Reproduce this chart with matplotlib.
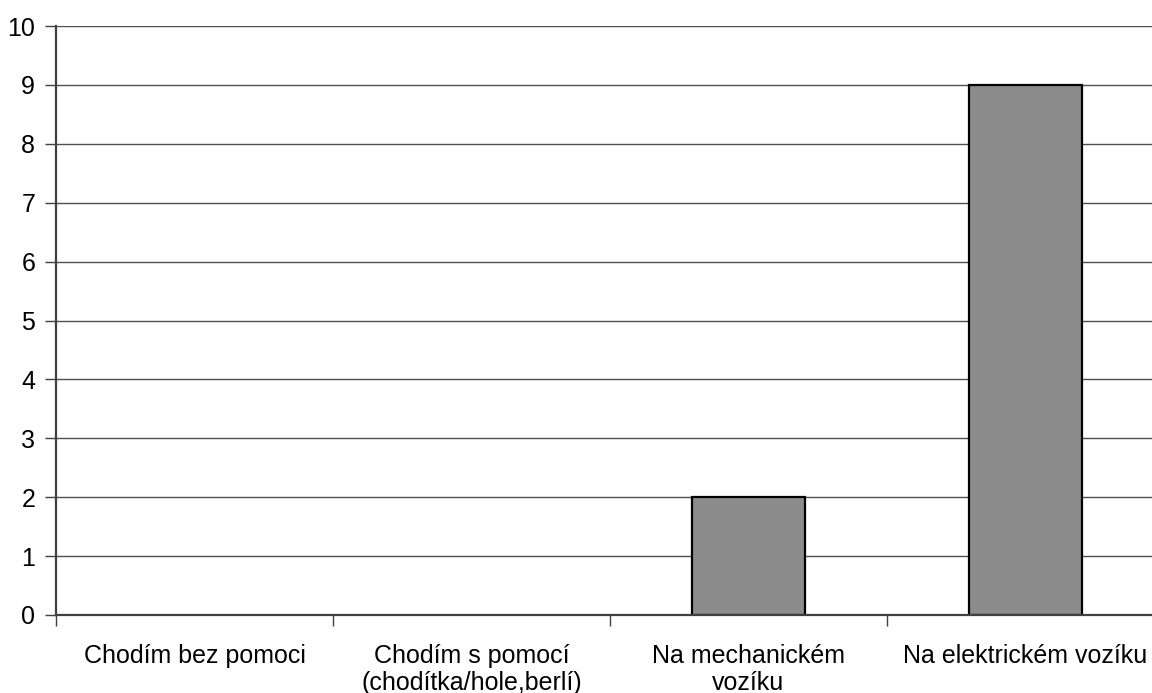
import matplotlib
matplotlib.use("Agg")
import matplotlib.pyplot as plt

plt.rcParams['font.family'] = ['Liberation Sans', 'DejaVu Sans']

categories = ["Chodím bez pomoci", "Chodím s pomocí\n(chodítka/hole,berlí)",
              "Na mechanickém\nvozíku", "Na elektrickém vozíku"]
counts = [0, 0, 2, 9]
y_ticks = list(range(0, 11))

fig = plt.figure(figsize=(11.52, 6.93), dpi=100)
ax = fig.add_axes([56 / 1152, 78 / 693, 1108 / 1152, 589 / 693])

x = list(range(len(categories)))
ax.bar(x, counts, width=0.405, color='#8c8c8c', edgecolor='black',
       linewidth=[1.6 if c else 0 for c in counts], zorder=2)

ax.set_xlim(-0.5, len(categories) - 0.5)
ax.set_ylim(0, 10)
ax.set_yticks(y_ticks)
ax.set_yticklabels([str(v) for v in y_ticks], fontsize=18)
ax.yaxis.grid(True, color='#505050', linewidth=1.0, zorder=0)
ax.set_axisbelow(True)

# category labels sit between the boundary ticks
ax.set_xticks([i - 0.5 for i in range(len(categories) + 1)])
ax.set_xticklabels([])
ax.set_xticks(x, minor=True)
ax.set_xticklabels(categories, minor=True, fontsize=18, linespacing=1.13)
ax.tick_params(axis='x', which='minor', length=0, pad=21)
ax.tick_params(axis='x', which='major', length=8, width=1.0, color='#404040', direction='out')
ax.tick_params(axis='y', length=8, width=1.0, color='#404040', pad=7)

for side in ('top', 'right'):
    ax.spines[side].set_visible(False)
for side in ('left', 'bottom'):
    ax.spines[side].set_color('#404040')
    ax.spines[side].set_linewidth(1.6)
    ax.spines[side].set_zorder(3)

fig.savefig('out.png', dpi=100)
